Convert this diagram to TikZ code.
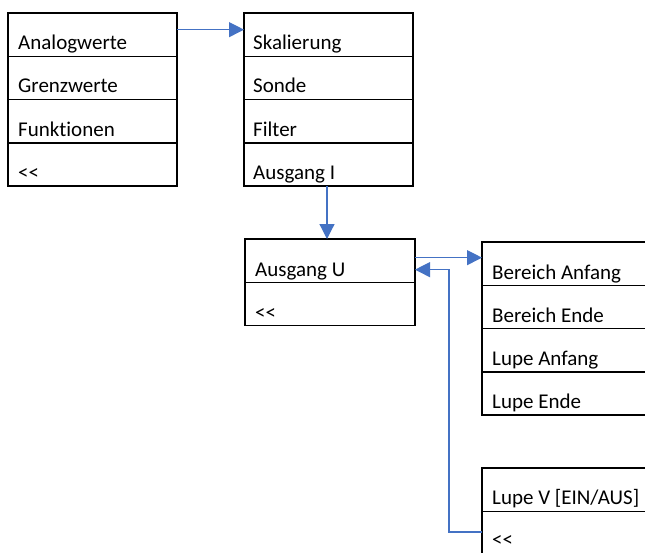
\documentclass[tikz,border=0pt]{standalone}
\usepackage{fontspec}
\setmainfont[Ligatures={NoCommon}]{Carlito}
\usetikzlibrary{arrows.meta}
\definecolor{linkblue}{HTML}{4472C4}
\begin{document}
\begin{tikzpicture}[x=1pt,y=-1pt,
  row/.style={draw, line width=1.5pt, anchor=north west, outer sep=0pt,
    inner sep=0pt, minimum width=169pt, minimum height=43.3pt},
  txt/.style={anchor=base west, inner sep=0pt,
    font=\fontsize{21}{25}\selectfont},
  link/.style={draw=linkblue, line width=1.2pt,
    -{Triangle[length=15pt,width=15pt]}}]
\clip (0,0) rectangle (645,552);
\fill[white] (0,0) rectangle (645,552);

% main menu
\node[row] (a1) at (8,13) {};
\node[row] (a2) at (a1.south west) {};
\node[row] (a3) at (a2.south west) {};
\node[row] (a4) at (a3.south west) {};
\node[txt] (ta1) at ([shift={(10pt,6.8pt)}]a1.south west) {Analogwerte};
\node[txt] (ta2) at ([shift={(10pt,6.8pt)}]a2.south west) {Grenzwerte};
\node[txt] (ta3) at ([shift={(10pt,6.8pt)}]a3.south west) {Funktionen};
\node[txt] (ta4) at ([shift={(10pt,6.8pt)}]a4.south west) {<{}<};

% Analogwerte submenu
\node[row] (b1) at (244,13) {};
\node[row] (b2) at (b1.south west) {};
\node[row] (b3) at (b2.south west) {};
\node[row] (b4) at (b3.south west) {};
\node[txt] (tb1) at ([shift={(9pt,6.8pt)}]b1.south west) {Skalierung};
\node[txt] (tb2) at ([shift={(9pt,6.8pt)}]b2.south west) {Sonde};
\node[txt] (tb3) at ([shift={(9pt,6.8pt)}]b3.south west) {Filter};
\node[txt] (tb4) at ([shift={(9pt,6.8pt)}]b4.south west) {Ausgang I};

% Ausgang U menu
\node[row, minimum width=170pt] (c1) at (245,239) {};
\node[row, minimum width=170pt] (c2) at (c1.south west) {};
\node[txt] (tc1) at ([shift={(10pt,6.3pt)}]c1.south west) {Ausgang U};
\node[txt] (tc2) at ([shift={(10pt,6.3pt)}]c2.south west) {<{}<};

% Ausgang U settings
\node[row] (d1) at (482,242) {};
\node[row] (d2) at (d1.south west) {};
\node[row] (d3) at (d2.south west) {};
\node[row] (d4) at (d3.south west) {};
\node[txt] (td1) at ([shift={(10pt,6.3pt)}]d1.south west) {Bereich Anfang};
\node[txt] (td2) at ([shift={(10pt,6.3pt)}]d2.south west) {Bereich Ende};
\node[txt] (td3) at ([shift={(10pt,6.3pt)}]d3.south west) {Lupe Anfang};
\node[txt] (td4) at ([shift={(10pt,6.3pt)}]d4.south west) {Lupe Ende};

\node[row] (e1) at (482,468) {};
\node[row] (e2) at (e1.south west) {};
\node[txt] (te1) at ([shift={(10pt,6.8pt)}]e1.south west) {Lupe V [EIN/AUS]};
\node[txt] (te2) at ([shift={(10pt,8.5pt)}]e2.south west) {<{}<};

% connectors
\draw[link] ([yshift=5pt]a1.east) -- ([yshift=5pt]a1.east -| b1.west);
\draw[link] ([xshift=-1.5pt]b4.south) -- ([xshift=-1.5pt]b4.south |- c1.north);
\draw[link] ([yshift=3pt]c1.east) -- ([yshift=3pt]c1.east -| d1.west);
\draw[link] ([yshift=1pt]e2.west) -| ([xshift=34pt,yshift=-9pt]c1.east)
  -- ([yshift=-9pt]c1.east);
\end{tikzpicture}
\end{document}
